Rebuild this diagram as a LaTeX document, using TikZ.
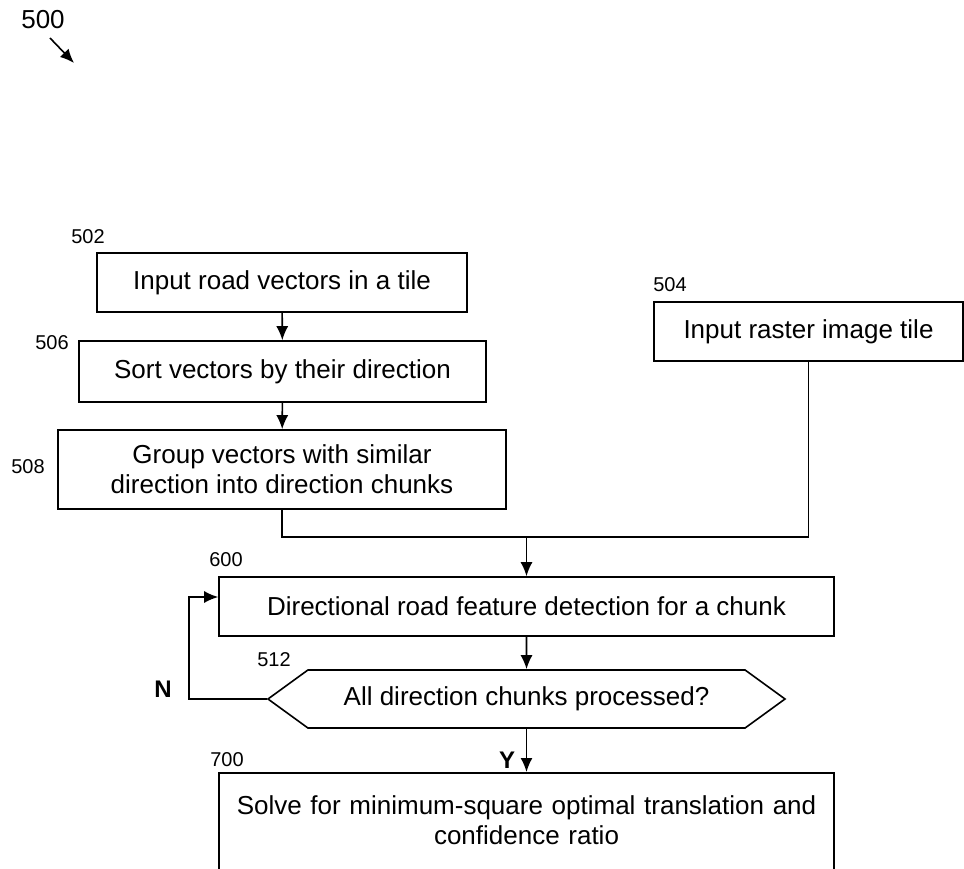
\documentclass[tikz,border=0pt]{standalone}
\usepackage{fontspec}
\setmainfont{Liberation Sans}
\usepackage{tikz}
\usetikzlibrary{arrows.meta,shapes.symbols}

\begin{document}
\begin{tikzpicture}[x=1pt,y=-1pt,
        box/.style={draw, line width=1.6pt, inner sep=0pt, align=center, font=\fontsize{26}{30}\selectfont},
        num/.style={font=\fontsize{20}{24}\selectfont},
        yn/.style={font=\fontsize{24}{26}\selectfont\bfseries},
        arr/.style={-{Latex[length=14pt,width=12pt]}, line width=1.6pt},
        lin/.style={line width=1.6pt}]
    \useasboundingbox (0,0) rectangle (964,869);
    % reference numbers
        \node[num, font=\fontsize{26}{28}\selectfont] (n500) at (43,20) {500};
        \node[num] (n502) at (88,237) {502};
        \node[num] (n504) at (670,285) {504};
        \node[num] (n506) at (52,343) {506};
        \node[num] (n508) at (28,467) {508};
        \node[num] (n600) at (226,560) {600};
        \node[num] (n512) at (274,660) {512};
        \node[num] (n700) at (227,760) {700};
    % steps
        \node[box, minimum width=370pt, minimum height=59pt] (b502) at (282,282.5) {Input road vectors in a tile};
        \node[box, minimum width=407pt, minimum height=61pt] (b506) at (282.5,371.5) {Sort vectors by their direction};
        \node[box, minimum width=448pt, minimum height=79pt] (b508) at (282,469.5) {Group vectors with similar\\direction into direction chunks};
        \node[box, minimum width=309pt, minimum height=59pt] (b504) at (808.5,331.5) {Input raster image tile};
        \node[box, minimum width=615pt, minimum height=59pt] (b600) at (526.5,606.5) {Directional road feature detection for a chunk};
        \node[box, signal, signal to=west and east, signal pointer angle=72, minimum width=517pt, minimum height=58pt] (d512) at (526.5,699) {All direction chunks processed?};
        \node[box, anchor=north, text width=615pt, inner ysep=23pt] (b700) at (526.5,772) {Solve for minimum-square optimal translation and\\confidence ratio\\[10pt]\strut};
    % connectors
        \coordinate (a500) at (50,38);
        \coordinate (e500) at (74,63);
        \draw [arr] (a500) -- (e500);
        \draw [arr] (b502) -- (b506);
        \draw [arr] (b506) -- (b508);
        \coordinate (join) at (526.5,537);
        \draw [lin] (b508.south) |- (join);
        \draw [lin] (b504.south) |- (join);
        \draw [arr] (join) -- (b600.north);
        \draw [arr] (b600) -- (d512);
        \coordinate (nbend) at (189,699);
        \draw [arr] (d512.west) -- (nbend) |- ([yshift=9.5pt]b600.west);
        \node[yn] (lblN) at (163,689) {N};
        \draw [arr] (d512) -- (b700);
        \node[yn] (lblY) at (507,760) {Y};
    \end{tikzpicture}
\end{document}
